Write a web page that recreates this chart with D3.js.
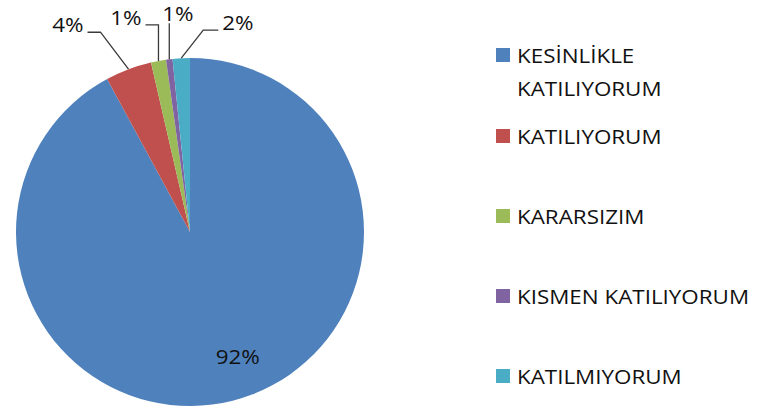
<!DOCTYPE html>
<html>
<head>
<meta charset="utf-8">
<script src="https://cdn.jsdelivr.net/npm/d3@7/dist/d3.min.js"></script>
<style>
body{margin:0;background:#fff;}
svg{display:block;}
text{font-family:"Open Sans",sans-serif;fill:#111;}
</style>
</head>
<body>
<div id="canvas"></div>
<script>
// data (percent of answers)
var categories = ['KESİNLİKLE KATILIYORUM','KATILIYORUM','KARARSIZIM','KISMEN KATILIYORUM','KATILMIYORUM'];
var values = [92.1, 4.3, 1.4, 0.6, 1.6];
var palette = ['#4F81BD','#C0504D','#9BBB59','#8064A2','#4BACC6'];

var W = 763, H = 410;
var cx = 190, cy = 232, r = 174;
var fs = 20;
var stretch = 1.12;   // text in the picture is a bit wide

var svg = d3.select('#canvas')
    .append('svg')
    .attr('width',W)
    .attr('height',H);

var color = d3.scaleOrdinal().domain(categories).range(palette);

var pie = d3.pie().sort(null).value(function(d){return d.value;});
var arc = d3.arc().innerRadius(0).outerRadius(r);

var rows = categories.map(function(c,i){ return {cat:c, value:values[i]}; });
var slices = pie(rows);
var total = d3.sum(values);

var plot = svg.append('g')
    .attr('transform','translate(' + cx + ',' + cy + ')');

plot.selectAll('.slice')
    .data(slices)
    .enter()
    .append('path')
    .attr('class','slice')
    .attr('d',arc)
    .style('fill',function(d){return color(d.data.cat);});

function pct(d){ return Math.round(d.data.value / total * 100) + '%'; }
function edge(d){
    var a = (d.startAngle + d.endAngle) / 2;
    return [Math.sin(a) * r, -Math.cos(a) * r];
}

// label placement: [elbow dx, elbow dy, horizontal run, text gap, baseline dy]
var leader = [
    null,
    [-28,-37,-13,-4,0],
    [0,-36,-13,-4,0],
    [0,-36,0,-7,-2],
    [22,-28,15,4,0]
];

// big slice label sits inside
var big = slices[0];
var mid = (big.startAngle + big.endAngle) / 2;
plot.append('text')
    .attr('transform','translate(' + (Math.sin(mid) * r * 0.72 - 5) + ',' + (-Math.cos(mid) * r * 0.72 + 11) + ') scale(' + stretch + ',1)')
    .attr('font-size',fs)
    .attr('text-anchor','start')
    .text(pct(big));

slices.slice(1).forEach(function(d,k){
    var i = k + 1, L = leader[i];
    var p = edge(d);
    var e = [p[0] + L[0], p[1] + L[1]];
    var q = [e[0] + L[2], e[1]];
    plot.append('polyline')
        .attr('points',[p,e,q].map(function(v){return v.join(',');}).join(' '))
        .style('fill','none')
        .style('stroke','#3a3a3a')
        .style('stroke-width',1.3);
    var right = L[2] < 0;
    plot.append('text')
        .attr('transform','translate(' + (q[0] + L[3]) + ',' + (q[1] + L[4]) + ') scale(' + stretch + ',1)')
        .attr('font-size',fs)
        .attr('text-anchor', right ? 'end' : 'start')
        .text(pct(d));
});

// legend
var legend = svg.append('g').attr('class','legend');
var legendX = 496, legendTop = 63, rowStep = 80, lineStep = 33, maxW = 240;

categories.forEach(function(c,i){
    var y = legendTop + i * rowStep + (i > 0 ? 1 : 0);
    legend.append('rect')
        .attr('x',legendX)
        .attr('y',y - 15)
        .attr('width',14)
        .attr('height',14)
        .style('fill',color(c));

    // wrap the long label like the original
    var words = c.split(' '), lines = [], cur = '';
    var probe = legend.append('text').attr('font-size',fs);
    words.forEach(function(w){
        var t = cur ? cur + ' ' + w : w;
        probe.text(t);
        if (cur && probe.node().getComputedTextLength() * stretch > maxW){
            lines.push(cur); cur = w;
        } else cur = t;
    });
    lines.push(cur);
    probe.remove();

    lines.forEach(function(s,j){
        legend.append('text')
            .attr('transform','translate(' + (legendX + 21) + ',' + (y + j * lineStep) + ') scale(' + stretch + ',1)')
            .attr('font-size',fs)
            .text(s);
    });
});
</script>
</body>
</html>
